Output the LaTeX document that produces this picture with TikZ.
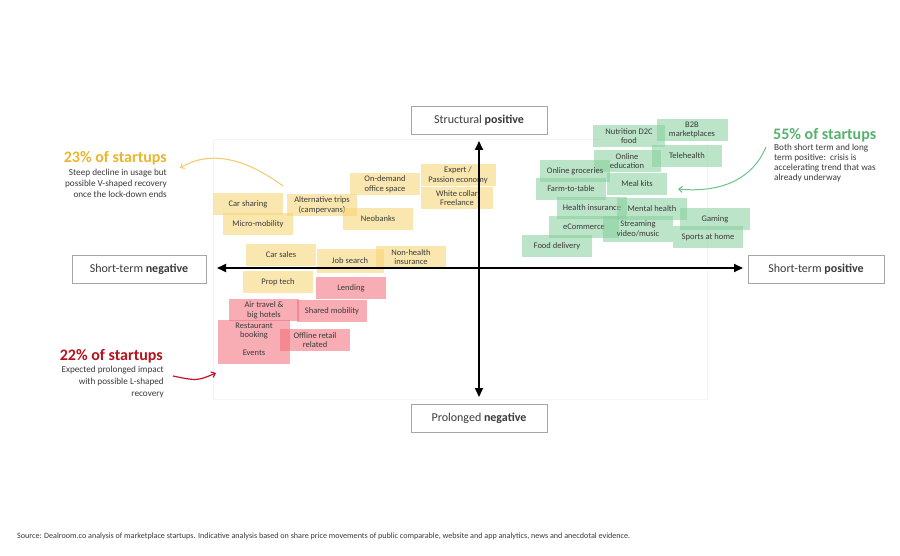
\documentclass[tikz,border=0pt]{standalone}
\usepackage{fontspec}
\setmainfont{Carlito}
\usetikzlibrary{arrows.meta}
\definecolor{ybox}{HTML}{F7D46E}
\definecolor{gbox}{HTML}{86CF9B}
\definecolor{rbox}{HTML}{F46A78}
\definecolor{ytxt}{HTML}{EBB62E}
\definecolor{gtxt}{HTML}{55B26E}
\definecolor{rtxt}{HTML}{B5121B}
\definecolor{btxt}{HTML}{3A3A3A}
\definecolor{yarr}{HTML}{F5C86A}
\definecolor{garr}{HTML}{6CC38A}
\definecolor{rarr}{HTML}{C8102E}
\tikzset{
  cat/.style={rectangle, minimum width=70pt, minimum height=22pt, inner sep=1pt,
    align=center, font=\fontsize{8.5}{9.6}\selectfont, text=btxt,
    fill opacity=0.55, text opacity=1},
  ycat/.style={cat, fill=ybox},
  gcat/.style={cat, fill=gbox},
  rcat/.style={cat, fill=rbox},
  axlab/.style={draw=gray!70, line width=0.7pt, minimum width=136pt,
    minimum height=28pt, inner sep=0pt, font=\fontsize{12}{14}\selectfont, text=btxt},
  axis/.style={line width=1.8pt, -{Triangle[length=9pt,width=8pt]}},
  head/.style={inner sep=0pt, font=\bfseries\fontsize{16}{18}\selectfont},
  desc/.style={inner sep=0pt, text=btxt},
  curvearr/.style={line width=1pt, -{Straight Barb[length=3.5pt,width=6pt]}}
}
\begin{document}
\begin{tikzpicture}[x=1pt,y=-1pt]
\useasboundingbox (0,0) rectangle (900,556);
\fill[white] (0,0) rectangle (900,556);
\draw[gray!8, line width=0.6pt] (213,139) rectangle (707,399);

% yellow
\node[ycat] (carsharing) at (248,204) {Car sharing};
\node[ycat] (micro) at (258,224) {Micro-mobility};
\node[ycat] (alttrips) at (322,205) {Alternative trips\\(campervans)};
\node[ycat] (ondemand) at (385,184) {On-demand\\office space};
\node[ycat] (neobanks) at (378,219) {Neobanks};
\node[ycat, minimum width=75pt] (expert) at (458,175) {Expert /\\Passion economy};
\node[ycat, minimum width=72pt] (whitecollar) at (457,198) {White collar\\Freelance};
\node[ycat] (carsales) at (281,255) {Car sales};
\node[ycat, minimum width=67pt, minimum height=24pt] (jobsearch) at (350,261) {\raisebox{-3pt}{Job search}};
\node[ycat] (nonhealth) at (411,257) {Non-health\\insurance};
\node[ycat] (proptech) at (278,282) {Prop tech};

% red
\node[rcat] (lending) at (351,288) {Lending};
\node[rcat] (airtravel) at (264,310) {Air travel \&\\big hotels};
\node[rcat] (sharedmob) at (332,311) {Shared mobility};
\node[rcat, minimum width=72pt] (restaurant) at (254,331) {Restaurant\\booking};
\node[rcat, minimum width=72pt] (events) at (254,353) {Events};
\node[rcat] (offline) at (315,340) {Offline retail\\related};

% green
\node[gcat, minimum width=72pt] (nutrition) at (629,136) {Nutrition D2C\\food};
\node[gcat, minimum width=71pt] (b2b) at (692,130) {B2B\\marketplaces};
\node[gcat, minimum width=67pt] (onlineedu) at (627,161) {Online\\education};
\node[gcat] (telehealth) at (687,156) {Telehealth};
\node[gcat] (groceries) at (575,171) {Online groceries};
\node[gcat] (farm) at (571,189) {Farm-to-table};
\node[gcat, minimum width=60pt] (mealkits) at (637,184) {Meal kits};
\node[gcat] (healthins) at (592,208) {Health insurance};
\node[gcat] (mental) at (652,209) {Mental health};
\node[gcat] (gaming) at (715,219) {Gaming};
\node[gcat] (ecommerce) at (584,227) {eCommerce};
\node[gcat, minimum height=26pt] (streaming) at (638,229) {Streaming\\video/music};
\node[gcat] (sports) at (708,237) {Sports at home};
\node[gcat] (fooddel) at (557,246) {Food delivery};

% axes
\coordinate (origin) at (479,268);
\coordinate (leftend) at (217,268);
\coordinate (rightend) at (743,268);
\coordinate (topend) at (479,141);
\coordinate (botend) at (479,397);
\draw[axis] (origin) -- (leftend);
\draw[axis] (origin) -- (rightend);
\draw[axis] (origin) -- (topend);
\draw[axis] (origin) -- (botend);

\node[axlab] (structpos) at (479,120) {Structural \textbf{positive}};
\node[axlab] (prolneg) at (479,418) {Prolonged \textbf{negative}};
\node[axlab, minimum width=134pt] (stneg) at (139,269) {Short-term \textbf{negative}};
\node[axlab] (stpos) at (816,269) {Short-term \textbf{positive}};

% annotations
\node[head, text=ytxt, anchor=base east] (yhead) at (167,163) {23\% of startups};
\node[desc, anchor=base east, align=right, font=\fontsize{9.2}{11}\selectfont] (ydesc) at (167,198)
  {Steep decline in usage but\\possible V-shaped recovery\\once the lock-down ends};
\node[head, text=rtxt, anchor=base east] (rhead) at (163,360) {22\% of startups};
\node[desc, anchor=base east, align=right, font=\fontsize{9.2}{11.7}\selectfont] (rdesc) at (164,396)
  {Expected prolonged impact\\with possible L-shaped\\recovery};
\node[head, text=gtxt, anchor=base west] (ghead) at (773,140) {55\% of startups};
\node[desc, anchor=base west, align=left, font=\fontsize{9.2}{10}\selectfont] (gdesc) at (774,181)
  {Both short term and long\\term positive:\ \ crisis is\\accelerating trend that was\\already underway};

\coordinate (ya1) at (283,186);
\coordinate (ya2) at (180,168);
\draw[curvearr, yarr] (ya1) .. controls (245,158) and (210,150) .. (ya2);
\coordinate (ra1) at (173,376);
\coordinate (ra2) at (216,373);
\draw[curvearr, rarr, line width=1.2pt] (ra1) .. controls (197,381) .. (ra2);
\coordinate (ga1) at (766,147);
\coordinate (ga2) at (678,189);
\draw[curvearr, garr] (ga1) .. controls (752,180) and (720,193) .. (ga2);

\node[anchor=base west, inner sep=0pt, text=btxt, font=\fontsize{8.1}{9}\selectfont] (footer) at (17,538)
  {Source: Dealroom.co analysis of marketplace startups. Indicative analysis based on share price movements of public comparable, website and app analytics, news and anecdotal evidence.};
\end{tikzpicture}
\end{document}
